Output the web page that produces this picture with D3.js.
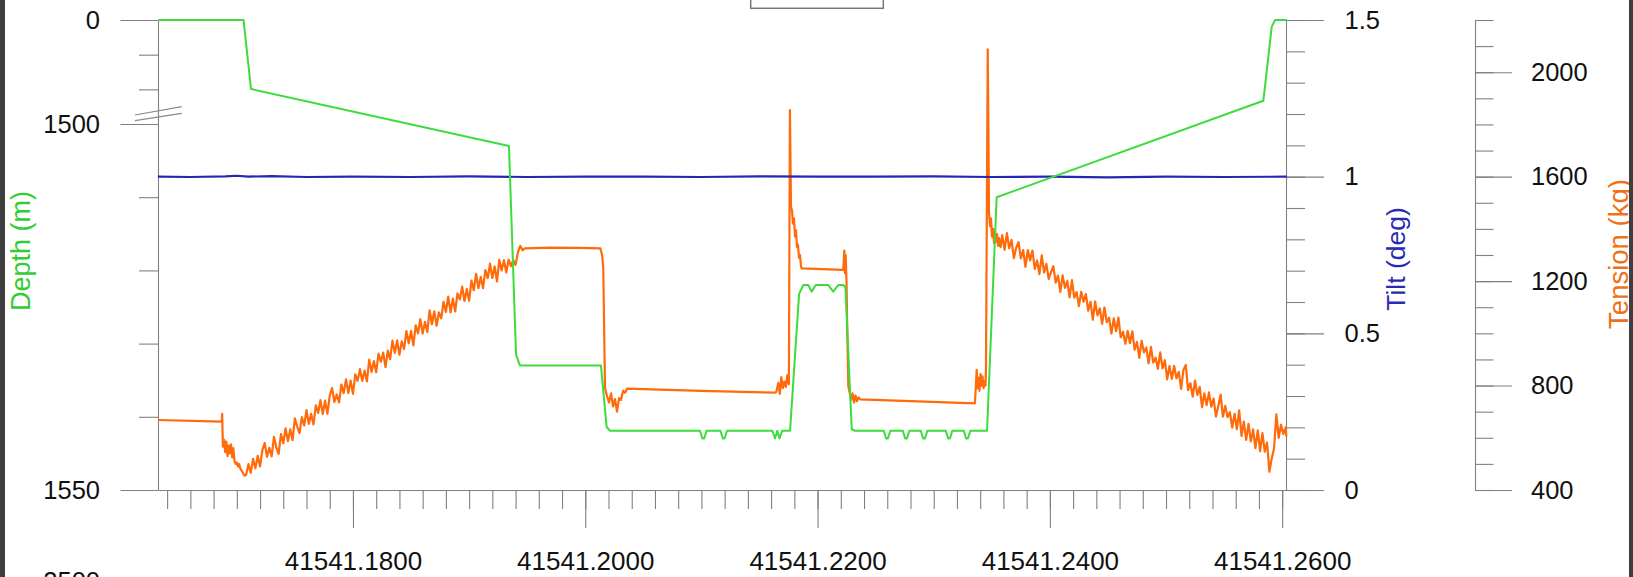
<!DOCTYPE html>
<html><head><meta charset="utf-8">
<script src="https://cdn.jsdelivr.net/npm/d3@7"></script>
<style>
html,body{margin:0;padding:0;background:#fff;overflow:hidden;}
svg{display:block;font-family:"Liberation Sans",Arial,sans-serif;}
</style></head><body>
<svg id="chart" width="1633" height="577"></svg>
<script>
// ---------------- DATA ----------------
const xTickValues = [41541.18, 41541.20, 41541.22, 41541.24, 41541.26];
const xTickLabels = ["41541.1800", "41541.2000", "41541.2200", "41541.2400", "41541.2600"];
const depthTickValues = [0, 1500, 1550];
const depthTickLabels = ["0", "1500", "1550"];
const depthMinorTicks = [500, 1000, 1510, 1520, 1530, 1540];
const tiltTickValues = [0, 0.5, 1, 1.5];
const tiltTickLabels = ["0", "0.5", "1", "1.5"];
const tensionTickValues = [400, 800, 1200, 1600, 2000];
const tensionTickLabels = ["400", "800", "1200", "1600", "2000"];
const axisTitles = ["Depth (m)", "Tilt (deg)", "Tension (kg)"];

// Depth (m) vs time
const depthSeries = [
  [41541.16324,0],[41541.17058,0],[41541.17122,995],[41541.19343,1503],[41541.19404,1531.5],[41541.19438,1533],
  [41541.20135,1533],[41541.20184,1541.4],[41541.20213,1541.9],
  [41541.20988,1541.9],[41541.21008,1542.95],[41541.21024,1542.95],[41541.21044,1541.9],
  [41541.21164,1541.9],[41541.21184,1542.95],[41541.21200,1542.95],[41541.21220,1541.9],
  [41541.21610,1541.9],[41541.21634,1542.95],[41541.21653,1541.9],[41541.21672,1542.95],[41541.21696,1541.9],
  [41541.21763,1541.9],[41541.21841,1523.2],[41541.21877,1522.0],[41541.21920,1522.0],[41541.21949,1522.9],
  [41541.21984,1522.0],[41541.22092,1522.0],[41541.22135,1522.9],[41541.22178,1522.0],[41541.22221,1522.0],
  [41541.22240,1522.3],[41541.22294,1541.7],[41541.22323,1541.9],
  [41541.22570,1541.9],[41541.22590,1542.95],[41541.22606,1542.95],[41541.22626,1541.9],
  [41541.22734,1541.9],[41541.22754,1542.95],[41541.22770,1542.95],[41541.22790,1541.9],
  [41541.22889,1541.9],[41541.22909,1542.95],[41541.22925,1542.95],[41541.22945,1541.9],
  [41541.23104,1541.9],[41541.23124,1542.95],[41541.23140,1542.95],[41541.23160,1541.9],
  [41541.23259,1541.9],[41541.23279,1542.95],[41541.23295,1542.95],[41541.23315,1541.9],
  [41541.23459,1541.9],[41541.23542,1510],[41541.25838,1165],[41541.25910,100],[41541.25939,0],[41541.26039,0]
];

// Tilt (deg) vs time
const tiltSeries = [
  [41541.1632,1.000],[41541.1660,0.999],[41541.1690,1.001],[41541.1700,1.003],[41541.1710,1.000],
  [41541.1730,1.002],[41541.1760,0.999],[41541.1800,1.000],[41541.1850,0.999],[41541.1900,1.001],
  [41541.1950,0.999],[41541.2000,1.000],[41541.2050,1.000],[41541.2100,0.999],[41541.2150,1.001],
  [41541.2200,1.000],[41541.2250,1.000],[41541.2300,1.001],[41541.2350,0.999],[41541.2400,1.000],
  [41541.2450,0.998],[41541.2500,1.000],[41541.2550,0.999],[41541.2604,1.000]
];

// Tension (kg) vs time
const tensionSeries = [
  [41541.16324,668],[41541.16870,662],[41541.16874,692],[41541.16880,566],[41541.16890,592],[41541.16900,545],
  [41541.16910,585],[41541.16920,530],[41541.16930,570],[41541.16940,540],[41541.16950,575],[41541.16960,525],
  [41541.16970,560],[41541.16980,510],[41541.16990,500],[41541.17000,505],[41541.17010,490],[41541.17020,500],
  [41541.17030,482],[41541.17040,475],[41541.17050,468],[41541.17060,458],[41541.17070,455],
  [41541.1708,458],[41541.1710,499],[41541.1712,466],[41541.1714,519],[41541.1716,483],[41541.1718,531],
  [41541.1720,490],[41541.1722,553],[41541.1724,580],[41541.1726,527],[41541.1728,562],[41541.1730,529],
  [41541.1732,604],[41541.1734,563],[41541.1736,538],[41541.1738,614],[41541.1740,579],[41541.1742,636],
  [41541.1744,587],[41541.1746,632],[41541.1748,591],[41541.1750,674],[41541.1752,643],[41541.1754,618],
  [41541.1756,679],[41541.1758,647],[41541.1760,706],[41541.1762,653],[41541.1764,692],[41541.1766,651],
  [41541.1768,724],[41541.1770,695],[41541.1772,744],[41541.1774,691],[41541.1776,742],[41541.1778,692],
  [41541.1780,761],[41541.1782,790],[41541.1784,737],[41541.1786,766],[41541.1788,735],[41541.1790,804],
  [41541.1792,771],[41541.1794,824],[41541.1796,771],[41541.1798,819],[41541.1800,768],[41541.1802,843],
  [41541.1804,818],[41541.1806,863],[41541.1808,818],[41541.1810,857],[41541.1812,816],[41541.1814,899],
  [41541.1816,852],[41541.1818,894],[41541.1820,851],[41541.1822,922],[41541.1824,891],[41541.1826,926],
  [41541.1828,871],[41541.1830,934],[41541.1832,901],[41541.1834,972],[41541.1836,925],[41541.1838,973],
  [41541.1840,918],[41541.1842,969],[41541.1844,940],[41541.1846,1009],[41541.1848,962],[41541.1850,1009],
  [41541.1852,954],[41541.1854,1031],[41541.1856,1000],[41541.1858,1054],[41541.1860,999],[41541.1862,1044],
  [41541.1864,1005],[41541.1866,1088],[41541.1868,1035],[41541.1870,1084],[41541.1872,1029],[41541.1874,1080],
  [41541.1876,1057],[41541.1878,1121],[41541.1880,1082],[41541.1882,1141],[41541.1884,1080],[41541.1886,1133],
  [41541.1888,1084],[41541.1890,1153],[41541.1892,1130],[41541.1894,1179],[41541.1896,1124],[41541.1898,1170],
  [41541.1900,1125],[41541.1902,1202],[41541.1904,1165],[41541.1906,1228],[41541.1908,1173],[41541.1910,1216],
  [41541.1912,1173],[41541.1914,1242],[41541.1916,1211],[41541.1918,1267],[41541.1920,1212],[41541.1922,1256],
  [41541.1924,1199],[41541.1926,1282],[41541.1928,1241],[41541.1930,1280],[41541.1932,1233],[41541.1934,1282],
  [41541.1936,1257],
  [41541.19380,1280],[41541.19400,1262],[41541.19420,1310],[41541.19440,1335],[41541.19460,1318],[41541.19480,1325],
  [41541.19700,1328],[41541.19950,1327],[41541.20130,1325],[41541.20145,1300],[41541.20155,1250],[41541.20170,790],
  [41541.20187,760],[41541.20204,735],[41541.20222,770],[41541.20239,720],[41541.20256,748],[41541.20273,700],
  [41541.20291,752],[41541.20308,745],[41541.20325,780],[41541.20342,772],[41541.20360,788],[41541.21000,780],
  [41541.21636,773],
  [41541.21645,776],[41541.21662,810],[41541.21675,768],[41541.21688,832],[41541.21701,790],[41541.21714,815],
  [41541.21727,795],[41541.21740,840],[41541.21753,805],
  [41541.21762,1855],[41541.21771,1485],[41541.21780,1470],[41541.21788,1420],[41541.21797,1440],[41541.21806,1370],
  [41541.21814,1395],[41541.21823,1330],[41541.21831,1340],[41541.21840,1290],[41541.21849,1300],[41541.21857,1258],
  [41541.21863,1249],[41541.22221,1243],
  [41541.22230,1317],[41541.22236,1230],[41541.22242,1300],[41541.22249,1200],[41541.22256,1000],[41541.22265,796],
  [41541.22275,775],[41541.22288,745],[41541.22301,770],[41541.22314,735],[41541.22327,762],[41541.22340,740],
  [41541.22353,755],[41541.22366,747],[41541.23355,732],
  [41541.23370,860],[41541.23377,790],[41541.23386,830],[41541.23394,780],[41541.23403,845],[41541.23412,800],
  [41541.23420,835],[41541.23429,790],[41541.23437,815],[41541.23446,800],[41541.23450,870],
  [41541.23465,2088],[41541.23472,1700],[41541.23476,1460],[41541.23485,1410],[41541.23493,1440],[41541.23502,1370],
  [41541.23511,1400],[41541.23519,1345],[41541.23528,1390],[41541.23536,1350],[41541.23545,1380],[41541.23554,1335],
  [41541.23562,1365],[41541.23575,1330],
  [41541.2359,1376],[41541.2361,1320],[41541.2363,1384],[41541.2365,1326],[41541.2367,1358],[41541.2369,1288],
  [41541.2371,1328],[41541.2373,1349],[41541.2375,1287],[41541.2377,1319],[41541.2379,1255],[41541.2381,1319],
  [41541.2383,1279],[41541.2385,1317],[41541.2387,1247],[41541.2389,1279],[41541.2391,1227],[41541.2393,1299],
  [41541.2395,1233],[41541.2397,1266],[41541.2399,1208],[41541.2401,1235],[41541.2403,1257],[41541.2405,1194],
  [41541.2407,1221],[41541.2409,1159],[41541.2411,1222],[41541.2413,1174],[41541.2415,1201],[41541.2417,1138],
  [41541.2419,1204],[41541.2421,1137],[41541.2423,1158],[41541.2425,1104],[41541.2427,1159],[41541.2429,1121],
  [41541.2431,1150],[41541.2433,1087],[41541.2435,1121],[41541.2437,1052],[41541.2439,1122],[41541.2441,1069],
  [41541.2443,1096],[41541.2445,1036],[41541.2447,1099],[41541.2449,1043],[41541.2451,1060],[41541.2453,999],
  [41541.2455,1057],[41541.2457,1008],[41541.2459,1060],[41541.2461,985],[41541.2463,1006],[41541.2465,960],
  [41541.2467,1009],[41541.2469,962],[41541.2471,1008],[41541.2473,937],[41541.2475,967],[41541.2477,906],
  [41541.2479,971],[41541.2481,927],[41541.2483,946],[41541.2485,885],[41541.2487,948],[41541.2489,888],
  [41541.2491,907],[41541.2493,864],[41541.2495,927],[41541.2497,866],[41541.2499,897],[41541.2501,824],
  [41541.2503,875],[41541.2505,826],[41541.2507,875],[41541.2509,828],[41541.2511,852],[41541.2513,787],
  [41541.2515,860],[41541.2517,879],[41541.2519,782],[41541.2521,809],[41541.2523,758],[41541.2525,819],
  [41541.2527,764],[41541.2529,795],[41541.2531,717],[41541.2533,770],[41541.2535,725],[41541.2537,774],
  [41541.2539,719],[41541.2541,750],[41541.2543,681],[41541.2545,722],[41541.2547,765],[41541.2549,681],
  [41541.2551,722],[41541.2553,679],[41541.2555,698],[41541.2557,639],[41541.2559,692],[41541.2561,633],
  [41541.2563,705],[41541.2565,607],[41541.2567,662],[41541.2569,592],[41541.2571,653],[41541.2573,586],
  [41541.2575,632],[41541.2577,560],[41541.2579,628],[41541.2581,549],[41541.2583,618],[41541.2585,547],
  [41541.2587,582],[41541.2589,470],[41541.2591,520],[41541.2593,560],[41541.2595,690],[41541.2597,600],
  [41541.2599,650],[41541.2601,615],[41541.2603,640],[41541.26036,605]
];

// ---------------- CHART ----------------
const svg = d3.select("#chart");
const W = 1633, H = 577;
const FONT = 25.5;

svg.append("rect").attr("x",0).attr("y",0).attr("width",W).attr("height",H).attr("fill","#ffffff");

const x = d3.scaleLinear().domain([41541.16324, 41541.26039]).range([158.3, 1286.7]);
const yDepth = d3.scaleLinear().domain([0, 1500, 1550]).range([20, 124, 490]);
const yTilt = d3.scaleLinear().domain([0, 1.5]).range([490, 20]);
const yTension = d3.scaleLinear().domain([400, 2200]).range([490, 20]);

const axisColor = "#808080";
function styleAxis(g, keepDomain, fs) {
  g.attr("font-family", null).attr("font-size", null);
  g.selectAll("line").attr("stroke", axisColor).attr("stroke-width", 1.1);
  g.select(".domain").attr("stroke", axisColor).attr("stroke-width", 1.1);
  if (!keepDomain) g.select(".domain").remove();
  g.selectAll("text").attr("font-size", fs || FONT).attr("fill", "#111");
}

// X axis
const xMinor = d3.range(0, 49).map(i => 41541.164 + i * 0.002);
svg.append("g").attr("transform", "translate(0,490)")
  .call(d3.axisBottom(x).tickValues(xMinor).tickSize(19).tickSizeOuter(0).tickFormat(""))
  .call(g => styleAxis(g, true));
svg.append("g").attr("transform", "translate(0,490)")
  .call(d3.axisBottom(x).tickValues(xTickValues).tickSize(38).tickSizeOuter(0).tickPadding(23.5)
    .tickFormat((d, i) => xTickLabels[i]))
  .call(g => styleAxis(g, false, 26));

// Depth axis (left)
svg.append("g").attr("transform", "translate(158,0)")
  .call(d3.axisLeft(yDepth).tickValues(depthMinorTicks).tickSize(19).tickSizeOuter(0).tickFormat(""))
  .call(g => styleAxis(g, true));
svg.append("g").attr("transform", "translate(158,0)")
  .call(d3.axisLeft(yDepth).tickValues(depthTickValues).tickSize(37.5).tickSizeOuter(0).tickPadding(20.5)
    .tickFormat((d, i) => depthTickLabels[i]))
  .call(g => styleAxis(g, false));

// axis break marks
const brk = svg.append("g").attr("stroke", "#8a8a8a").attr("stroke-width", 1.2);
brk.append("line").attr("x1", 135).attr("y1", 115).attr("x2", 181.7).attr("y2", 106.7);
brk.append("line").attr("x1", 135).attr("y1", 120.7).attr("x2", 181.7).attr("y2", 113.3);

// Tilt axis (right)
const tiltMinor = d3.range(0, 16).map(i => i / 10);
svg.append("g").attr("transform", "translate(1286,0)")
  .call(d3.axisRight(yTilt).tickValues(tiltMinor).tickSize(19).tickSizeOuter(0).tickFormat(""))
  .call(g => styleAxis(g, true));
svg.append("g").attr("transform", "translate(1286,0)")
  .call(d3.axisRight(yTilt).tickValues(tiltTickValues).tickSize(38).tickSizeOuter(0).tickPadding(20.5)
    .tickFormat((d, i) => tiltTickLabels[i]))
  .call(g => styleAxis(g, false));

// Tension axis (far right)
const tensionMinor = d3.range(4, 23).map(i => i * 100);
svg.append("g").attr("transform", "translate(1475,0)")
  .call(d3.axisRight(yTension).tickValues(tensionMinor).tickSize(18.5).tickSizeOuter(0).tickFormat(""))
  .call(g => styleAxis(g, true));
svg.append("g").attr("transform", "translate(1475,0)")
  .call(d3.axisRight(yTension).tickValues(tensionTickValues).tickSize(37).tickSizeOuter(0).tickPadding(19)
    .tickFormat((d, i) => tensionTickLabels[i]))
  .call(g => styleAxis(g, false));

// Series
const lineTension = d3.line().x(d => x(d[0])).y(d => yTension(d[1]));
const lineTilt = d3.line().x(d => x(d[0])).y(d => yTilt(d[1]));
const lineDepth = d3.line().x(d => x(d[0])).y(d => yDepth(d[1]));

svg.append("path").datum(tensionSeries).attr("d", lineTension)
  .attr("fill", "none").attr("stroke", "#ff6a0a").attr("stroke-width", 2.2).attr("stroke-linejoin", "round");
svg.append("path").datum(tiltSeries).attr("d", lineTilt)
  .attr("fill", "none").attr("stroke", "#2626b2").attr("stroke-width", 2.2).attr("stroke-linejoin", "round");
svg.append("path").datum(depthSeries).attr("d", lineDepth)
  .attr("fill", "none").attr("stroke", "#3ddc3d").attr("stroke-width", 2).attr("stroke-linejoin", "round");

// Axis titles
svg.append("text").text(axisTitles[0]).attr("transform", "translate(21,251) rotate(-90)")
  .attr("text-anchor", "middle").attr("dominant-baseline", "central")
  .attr("font-size", 27).attr("fill", "#33cc33");
svg.append("text").text(axisTitles[1]).attr("transform", "translate(1396,259) rotate(-90)")
  .attr("text-anchor", "middle").attr("dominant-baseline", "central")
  .attr("font-size", 26.5).attr("fill", "#2a2ab4");
svg.append("text").text(axisTitles[2]).attr("transform", "translate(1618,254) rotate(-90)")
  .attr("text-anchor", "middle").attr("dominant-baseline", "central")
  .attr("font-size", 27.5).attr("fill", "#f07018");

// top legend box (cut off at the top, as in the reference) and partial label of the chart below
svg.append("rect").attr("x", 750.7).attr("y", -20).attr("width", 132.6).attr("height", 28.3)
  .attr("fill", "#fff").attr("stroke", "#777").attr("stroke-width", 1.5);
svg.append("text").text("2500").attr("x", 100).attr("y", 590).attr("text-anchor", "end")
  .attr("font-size", FONT).attr("fill", "#111");

// dark frame edges
svg.append("rect").attr("x", 0).attr("y", 0).attr("width", 5).attr("height", H).attr("fill", "#3e3e3e");
svg.append("rect").attr("x", 1629).attr("y", 0).attr("width", 4).attr("height", H).attr("fill", "#3e3e3e");
</script>
</body></html>
